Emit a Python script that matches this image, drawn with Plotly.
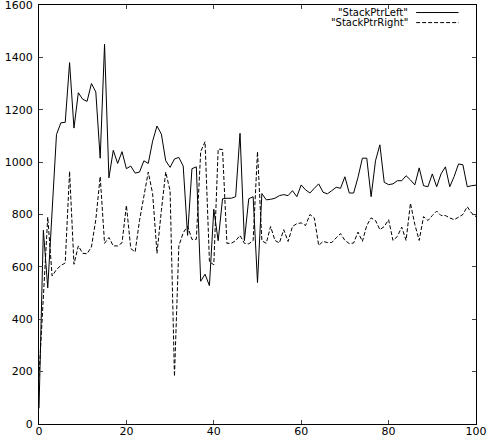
import plotly.graph_objects as go

# sample index (0..100)
steps = list(range(101))

stack_ptr_left = [
    60, 740, 520, 800, 1105, 1150, 1152, 1380, 1130, 1265,
    1240, 1232, 1300, 1268, 1015, 1450, 940, 1045, 995, 1040,
    975, 985, 958, 962, 1005, 995, 1080, 1138, 1107, 1005,
    980, 1012, 1018, 985, 720, 975, 982, 545, 572, 528,
    820, 700, 860, 862, 862, 868, 1110, 700, 860, 868,
    540, 880, 856, 858, 862, 872, 876, 872, 891, 868,
    913, 894, 882, 900, 917, 885, 879, 891, 904, 900,
    944, 882, 882, 942, 1015, 1015, 868, 1005, 1066, 923,
    914, 917, 929, 929, 948, 932, 913, 978, 910, 906,
    955, 906, 955, 982, 906, 945, 993, 990, 906, 910,
    912,
]

stack_ptr_right = [
    180, 480, 790, 565, 590, 605, 615, 965, 610, 680,
    652, 650, 676, 780, 945, 690, 712, 680, 680, 692,
    835, 670, 657, 777, 870, 962, 880, 652, 815, 962,
    890, 182, 680, 730, 755, 705, 705, 1040, 1078, 620,
    608, 1050, 1048, 690, 690, 700, 720, 690, 688, 700,
    1040, 700, 690, 754, 701, 691, 742, 697, 754, 765,
    768, 758, 800, 787, 682, 697, 693, 693, 711, 727,
    701, 689, 691, 733, 697, 758, 787, 777, 742, 754,
    780, 701, 716, 752, 701, 843, 762, 701, 792, 777,
    796, 813, 796, 796, 787, 780, 790, 800, 830, 805,
    792,
]

series_names = ['"StackPtrLeft"', '"StackPtrRight"']

x_ticks = [0, 20, 40, 60, 80, 100]
y_ticks = [0, 200, 400, 600, 800, 1000, 1200, 1400, 1600]

font = dict(family="DejaVu Sans", size=11, color="black")
key_font = dict(family="DejaVu Sans", size=10, color="black")

fig = go.Figure()
fig.add_trace(go.Scatter(x=steps, y=stack_ptr_left, mode="lines", name=series_names[0],
                         line=dict(color="black", width=1)))
fig.add_trace(go.Scatter(x=steps, y=stack_ptr_right, mode="lines", name=series_names[1],
                         line=dict(color="black", width=1, dash="4px,2px")))

# gnuplot-style key: text right aligned, line sample on the right
for i, (name, dash) in enumerate(zip(series_names, ["solid", "4px,2px"])):
    ypos = 0.982 - i * 0.024
    fig.add_annotation(x=0.847, y=ypos, xref="paper", yref="paper", text=name,
                       showarrow=False, xanchor="right", yanchor="middle", font=key_font,
                       borderpad=0)
    fig.add_shape(type="line", xref="paper", yref="paper", x0=0.863, x1=0.96, y0=ypos, y1=ypos,
                  line=dict(color="black", width=1, dash=dash))

fig.update_layout(
    width=487, height=437,
    margin=dict(l=39, r=11, t=5, b=13),
    plot_bgcolor="white", paper_bgcolor="white",
    showlegend=False,
    font=font,
)
fig.update_xaxes(range=[0, 100], tickvals=x_ticks, ticks="inside", ticklen=4,
                 showline=True, linecolor="black", linewidth=1, mirror="ticks",
                 showgrid=False, zeroline=False, automargin=False,
                 ticklabelstandoff=-3, ticklabeloverflow="allow")
fig.update_yaxes(range=[0, 1600], tickvals=y_ticks, ticks="inside", ticklen=4,
                 showline=True, linecolor="black", linewidth=1, mirror="ticks",
                 showgrid=False, zeroline=False, automargin=False,
                 ticklabelstandoff=3, ticklabeloverflow="allow")

# drop the browser's default page margin so the figure sits at the window corner
fig.write_html("out.html", config={"displayModeBar": False},
               post_script="document.body.style.margin='0';")
